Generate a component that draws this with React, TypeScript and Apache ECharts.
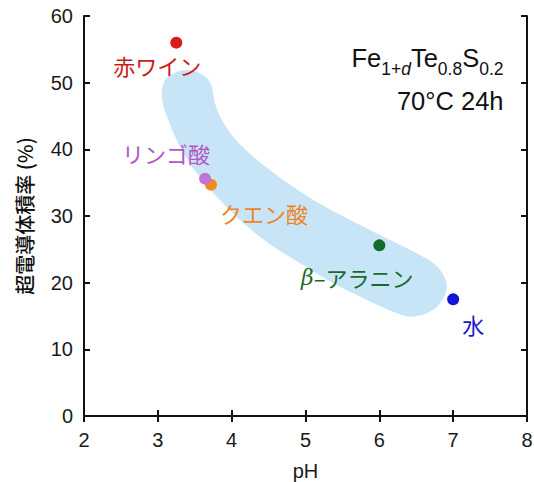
import React, { useEffect, useRef } from 'react';
import * as echarts from 'echarts';

// ---- data ----
const sampleNames = ['赤ワイン', 'クエン酸', 'リンゴ酸', 'β-アラニン', '水'];
const phValues = [3.25, 3.72, 3.64, 6.0, 7.0];
const fractionValues = [56.0, 34.7, 35.6, 25.6, 17.5];
const xTickValues = [2, 3, 4, 5, 6, 7, 8];
const yTickValues = [0, 10, 20, 30, 40, 50, 60];

// outline of the light-blue guide band (pH, %)
const bandX = [3.053, 3.098, 3.233, 3.392, 3.572, 3.707, 3.775, 3.843, 4.023, 4.294, 4.701, 5.153, 5.604, 6.056, 6.508, 6.733, 6.851, 6.915, 6.824, 6.644, 6.417, 6.237, 5.831, 5.378, 4.927, 4.476, 4.114, 3.798, 3.527, 3.301, 3.142];
const bandY = [47.9, 50.4, 51.5, 51.9, 51.4, 50.1, 46.9, 44.9, 41.9, 38.9, 35.4, 32.1, 29.4, 26.9, 24.4, 22.9, 21.45, 19.4, 16.9, 15.4, 14.9, 15.4, 17.4, 19.9, 22.9, 26.1, 29.4, 32.9, 36.4, 40.4, 44.4];

// ---- styles ----
const dotColors = ['#d61c1c', '#f28a22', '#c274d6', '#146a28', '#1414d4'];
const labelColors = ['#cc1a1a', '#ec8626', '#b058c4', '#1a6a2a', '#1818cc'];
const labelOffsets = [[-19, 22], [53, 28], [-39, -26], [-22, 32], [20, 25]];

const NUM_FONT = '"Liberation Sans", Arial, sans-serif';
const CJK_FONT = '"Noto Sans CJK JP", "Liberation Sans", sans-serif';

export default function App() {
  const ref = useRef<HTMLDivElement>(null);
  useEffect(() => {
    document.body.style.margin = '0';
    if (!ref.current) return;
    const chart = echarts.init(ref.current, undefined, { renderer: 'svg' });

    // formula annotation, laid out from right edge
    const ctx = document.createElement('canvas').getContext('2d')!;
    const measure = (t: string, size: number, italic: boolean) => {
      ctx.font = `${italic ? 'italic ' : ''}${size}px "Liberation Sans"`;
      return ctx.measureText(t).width;
    };
    const MAIN = 25.5, SUB = 17.5;
    const segs: [string, boolean, boolean][] = [
      ['Fe', false, false], ['1+', true, false], ['d', true, true],
      ['Te', false, false], ['0.8', true, false], ['S', false, false], ['0.2', true, false],
    ];
    const widths = segs.map(([t, sub, it]) => measure(t, sub ? SUB : MAIN, it));
    const total = widths.reduce((a, b) => a + b, 0);
    const rightEdge = 503.5;
    let cx = rightEdge - total;
    const graphics: any[] = [];
    segs.forEach(([t, sub, it], i) => {
      const size = sub ? SUB : MAIN;
      const baseline = sub ? 75 : 66.7;
      graphics.push({
        type: 'text', x: cx, y: baseline - 0.3465 * size,
        style: { text: t, fontSize: size, fontFamily: NUM_FONT, fontStyle: it ? 'italic' : 'normal', fill: '#111', align: 'left', verticalAlign: 'middle' },
        z: 10,
      });
      cx += widths[i];
    });
    graphics.push({
      type: 'text', x: rightEdge, y: 110 - 0.3465 * MAIN,
      style: { text: '70°C 24h', fontSize: MAIN, fontFamily: NUM_FONT, fill: '#111', align: 'right', verticalAlign: 'middle' },
      z: 10,
    });

    const axisCommon = {
      type: 'value' as const,
      axisLine: { show: true, lineStyle: { color: '#111', width: 2 } },
      axisTick: { show: true, inside: true, length: 6, lineStyle: { color: '#111', width: 2 } },
      splitLine: { show: false },
    };

    const option: any = {
      animation: false,
      backgroundColor: '#fff',
      grid: { left: 84, right: 7, top: 16, bottom: 66, containLabel: false, outerBoundsMode: 'none' },
      graphic: graphics,
      xAxis: [
        {
          ...axisCommon, min: 2, max: 8, interval: 1, position: 'bottom',
          name: 'pH', nameLocation: 'middle', nameGap: 45,
          nameTextStyle: { fontSize: 20, color: '#1a1a1a', fontFamily: NUM_FONT },
          axisLabel: { fontSize: 20, color: '#1a1a1a', margin: 14, fontFamily: NUM_FONT,
            formatter: (v: number) => (xTickValues.includes(v) ? String(v) : '') },
        },
        { ...axisCommon, min: 2, max: 8, interval: 1, position: 'top', axisLabel: { show: false } },
      ],
      yAxis: [
        {
          ...axisCommon, min: 0, max: 60, interval: 10, position: 'left',
          name: '超電導体積率 (%)', nameLocation: 'middle', nameGap: 50,
          nameTextStyle: { fontSize: 20, color: '#111', fontFamily: CJK_FONT, fontWeight: 500 },
          axisLabel: { fontSize: 20, color: '#1a1a1a', margin: 11, fontFamily: NUM_FONT,
            formatter: (v: number) => (yTickValues.includes(v) ? String(v) : '') },
        },
        { ...axisCommon, min: 0, max: 60, interval: 10, position: 'right', axisLabel: { show: false } },
      ],
      series: [
        {
          type: 'custom',
          coordinateSystem: 'cartesian2d',
          silent: true,
          clip: false,
          z: 1,
          data: [[bandX[0], bandY[0]]],
          renderItem: (_p: any, api: any) => ({
            type: 'polygon',
            shape: { points: bandX.map((x, i) => api.coord([x, bandY[i]])), smooth: 0.35 },
            style: { fill: '#c8e5f8' },
          }),
        },
        {
          type: 'scatter',
          z: 5,
          symbolSize: 12,
          itemStyle: { opacity: 1 },
          data: phValues.map((x, i) => ({
            value: [x, fractionValues[i]],
            itemStyle: { color: dotColors[i], opacity: 1 },
            label: {
              show: true,
              position: 'inside',
              offset: labelOffsets[i],
              formatter: i === 3 ? '{b|β}–アラニン' : sampleNames[i],
              color: labelColors[i],
              opacity: 1,
              fontSize: 22,
              fontFamily: CJK_FONT,
              rich: {
                b: { fontStyle: 'italic', fontFamily: '"DejaVu Serif", serif', fontSize: 22, color: labelColors[i] },
              },
            },
          })),
        },
      ],
    };
    chart.setOption(option);
    return () => chart.dispose();
  }, []);
  return <div ref={ref} style={{ width: 534, height: 482 }} />;
}
